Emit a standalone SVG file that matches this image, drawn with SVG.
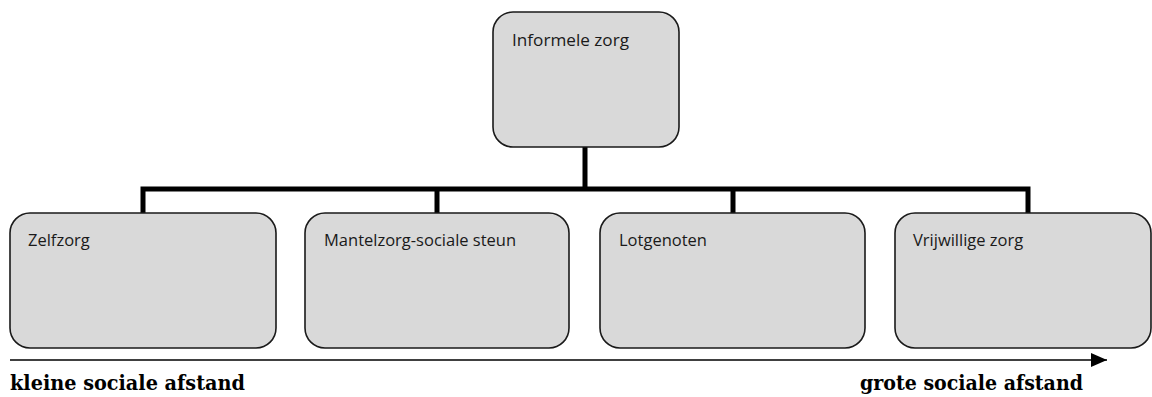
<svg xmlns="http://www.w3.org/2000/svg" width="1152" height="397" viewBox="0 0 1152 397">
<style>
.box{fill:#d9d9d9;stroke:#1a1a1a;stroke-width:1.6}
.lbl{font-family:"Open Sans","Liberation Sans",sans-serif;font-size:16.5px;fill:#1a1a1a}
.conn{fill:none;stroke:#000;stroke-width:5}
.axis{font-family:"DejaVu Serif","Liberation Serif",serif;font-weight:bold;font-size:21px;fill:#000}
</style>
<defs>
<marker id="ah" markerWidth="16" markerHeight="14" refX="16" refY="7" orient="auto" markerUnits="userSpaceOnUse">
<path d="M0,0 L16,7 L0,14 Z" fill="#000"/>
</marker>
</defs>
<g id="connectors">
<path class="conn" d="M585,147 V189 M143,213 V189 H1028 V213 M437,189 V213 M733,189 V213"/>
<line x1="10" y1="360" x2="1107" y2="360" stroke="#000" stroke-width="1.6" marker-end="url(#ah)"/>
</g>
<g id="informele-zorg">
<rect class="box" x="493" y="12" width="186" height="135" rx="20"/>
<text class="lbl" x="512" y="46" textLength="117" lengthAdjust="spacingAndGlyphs">Informele zorg</text>
</g>
<g id="zelfzorg">
<rect class="box" x="10" y="213" width="266" height="135" rx="20"/>
<text class="lbl" x="28" y="246">Zelfzorg</text>
</g>
<g id="mantelzorg">
<rect class="box" x="305" y="213" width="264" height="135" rx="20"/>
<text class="lbl" x="324" y="246">Mantelzorg-sociale steun</text>
</g>
<g id="lotgenoten">
<rect class="box" x="600" y="213" width="265" height="135" rx="20"/>
<text class="lbl" x="619" y="246">Lotgenoten</text>
</g>
<g id="vrijwillige-zorg">
<rect class="box" x="895" y="213" width="256" height="135" rx="20"/>
<text class="lbl" x="913" y="246">Vrijwillige zorg</text>
</g>
<text class="axis" x="10" y="390" textLength="235" lengthAdjust="spacingAndGlyphs">kleine sociale afstand</text>
<text class="axis" x="860" y="390" textLength="223" lengthAdjust="spacingAndGlyphs">grote sociale afstand</text>
</svg>
